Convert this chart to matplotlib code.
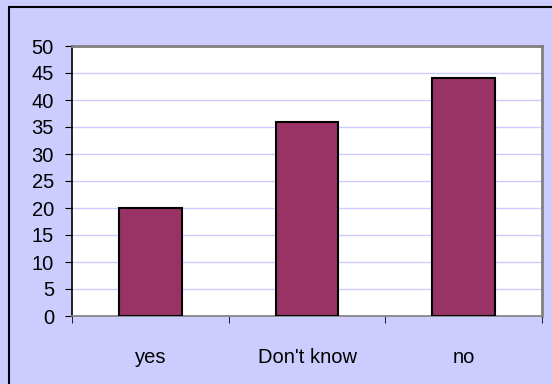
import matplotlib.pyplot as plt
from matplotlib.patches import Rectangle

categories = ['yes', "Don't know", 'no']
values = [20, 36, 44]
y_ticks = [0, 5, 10, 15, 20, 25, 30, 35, 40, 45, 50]

plt.rcParams['font.family'] = ['Liberation Sans', 'DejaVu Sans']

fig = plt.figure(figsize=(5.52, 3.84), dpi=100, facecolor='#CCCCFF')

# chart frame, only top and left edges fall inside the image
fig.patches.append(Rectangle((9 / 552, -0.1), 2, 1.1 - 7.5 / 384,
                             transform=fig.transFigure, fill=False,
                             edgecolor='black', linewidth=1.5))

ax = fig.add_axes([72 / 552, 1 - 316 / 384, 470 / 552, 270 / 384])
ax.set_facecolor('white')

x = range(len(categories))
ax.bar(x, values, width=0.4, color='#993366', edgecolor='black',
       linewidth=1.5, zorder=3)

ax.set_xlim(-0.5, 2.5)
ax.set_ylim(0, 50)
ax.set_yticks(y_ticks)
ax.yaxis.grid(True, color='#CCCCFF', linewidth=1, zorder=0)

# category labels centred, tick marks on the boundaries
ax.set_xticks(list(x))
ax.set_xticklabels(categories)
ax.set_xticks([-0.5, 0.5, 1.5, 2.5], minor=True)
ax.tick_params(axis='x', which='major', length=0, pad=23, labelsize=14.5)
ax.tick_params(axis='x', which='minor', length=5, direction='out', color='black')
ax.tick_params(axis='y', length=5, direction='out', labelsize=14.5, pad=8)

ax.spines['left'].set_color('black')
ax.spines['bottom'].set_color('#808080')
ax.spines['top'].set_color('#808080')
ax.spines['right'].set_color('#808080')
for s in ax.spines.values():
    s.set_linewidth(1.2)
ax.spines['top'].set_linewidth(2)
ax.spines['right'].set_linewidth(2)

fig.savefig('out.png', dpi=100, facecolor=fig.get_facecolor())
